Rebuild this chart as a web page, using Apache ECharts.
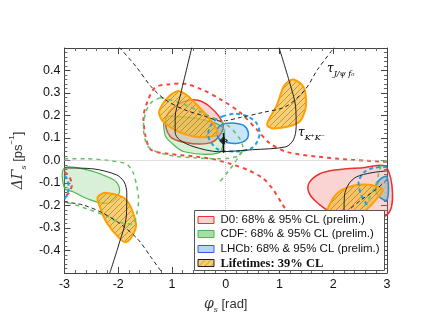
<!DOCTYPE html>
<html>
<head>
<meta charset="utf-8">
<script src="https://cdn.jsdelivr.net/npm/echarts@6/dist/echarts.min.js"></script>
<style>
  html, body { margin: 0; padding: 0; background: #fff; }
  #chart { width: 430px; height: 323px; }
</style>
</head>
<body>
<div id="chart"></div>
<script>
// axis ticks
const xTicks = [-3, -2, -1, 0, 1, 2, 3]
const xTickLabels = ['-3', '-2', '1', '0', '1', '2', '3']
const yTicks = [-0.4, -0.3, -0.2, -0.1, 0, 0.1, 0.2, 0.3, 0.4]
const yTickLabels = ['-0.4', '-0.3', '-0.2', '-0.1', '0.0', '0.1', '0.2', '0.3', '0.4']

// [phi_s, dGamma_s] contours
const d0Central68 = [[-1.12, 0.18], [-0.95, 0.24], [-0.59, 0.27], [-0.3, 0.24], [-0.05, 0.16], [-0.15, 0.1], [-0.36, 0.075], [-0.75, 0.08], [-1.03, 0.106]]
const d0Right68 = [[3.0, -0.033], [2.52, -0.033], [2.03, -0.042], [1.75, -0.059], [1.55, -0.1], [1.55, -0.144], [1.71, -0.189], [1.98, -0.229], [3.0, -0.242]]
const cdfCentral68 = [[-1.13, 0.19], [-0.9, 0.195], [-0.41, 0.18], [-0.05, 0.146], [-0.04, 0.083], [-0.13, 0.034], [-0.77, 0.039], [-1.03, 0.083], [-1.13, 0.115]]
const cdfLeft68 = [[-3.0, -0.033], [-2.57, -0.042], [-2.16, -0.077], [-2.02, -0.1], [-1.98, -0.144], [-2.16, -0.189], [-2.52, -0.175], [-2.83, -0.14], [-3.0, -0.122]]
const lhcbCentral68 = [[-0.17, 0.124], [-0.13, 0.15], [0.0, 0.164], [0.18, 0.166], [0.34, 0.155], [0.42, 0.124], [0.38, 0.092], [0.23, 0.077], [0.04, 0.079], [-0.11, 0.092]]
const lhcbRight68 = [[3.0, -0.073], [2.86, -0.086], [2.79, -0.122], [2.84, -0.158], [3.0, -0.175]]
const lifeTop = [[1.26, 0.36], [1.44, 0.33], [1.49, 0.284], [1.48, 0.226], [1.35, 0.168], [0.9, 0.142], [0.77, 0.16], [0.94, 0.24], [1.08, 0.33], [1.17, 0.352]]
const lifeCentral = [[-0.9, 0.308], [-1.23, 0.226], [-1.14, 0.167], [-0.6, 0.107], [-0.15, 0.122], [-0.6, 0.263]]
const lifeLeft = [[-2.38, -0.162], [-2.21, -0.144], [-1.85, -0.175], [-1.67, -0.278], [-1.71, -0.322], [-1.85, -0.363], [-1.98, -0.345], [-2.21, -0.278], [-2.34, -0.207]]
const lifeRight = [[1.89, -0.242], [1.98, -0.175], [2.16, -0.131], [2.48, -0.108], [2.79, -0.113], [2.92, -0.131], [2.79, -0.175], [2.61, -0.22], [2.25, -0.287]]

const d0Dash95 = [[3.0, -0.006], [2.34, 0.003], [1.71, 0.017], [1.12, 0.039], [0.81, 0.079], [0.58, 0.137], [0.27, 0.213], [-0.09, 0.271], [-0.45, 0.316], [-0.81, 0.342], [-1.08, 0.338], [-1.31, 0.325], [-1.44, 0.271], [-1.53, 0.191], [-1.49, 0.106], [-1.39, 0.048], [-1.08, 0.03], [-0.54, 0.017], [-0.18, 0.003], [0.09, -0.015], [0.41, -0.042], [0.68, -0.077], [0.86, -0.122], [1.04, -0.189], [1.26, -0.274], [1.44, -0.354]]
const d0DashLeft95 = [[-3.0, -0.05], [-2.92, -0.068], [-2.86, -0.108], [-2.92, -0.144], [-3.0, -0.162]]
const cdfDash95 = [[-1.21, 0.28], [-0.81, 0.253], [-0.36, 0.204], [0.04, 0.155], [0.25, 0.101], [0.32, 0.057], [0.25, 0.021], [-0.13, 0.008], [-0.59, 0.012], [-1.08, 0.025], [-1.44, 0.061], [-1.53, 0.15], [-1.49, 0.213], [-1.39, 0.257], [-1.21, 0.28]]
const cdfDashBranch95 = [[0.29, 0.039], [0.18, -0.006], [0.04, -0.05], [-0.11, -0.095]]
const cdfDashLeft95 = [[-3.0, 0.008], [-2.61, 0.008], [-2.16, -0.001], [-1.85, -0.015], [-1.73, -0.05], [-1.66, -0.108], [-1.62, -0.175], [-1.66, -0.242], [-1.73, -0.283], [-1.98, -0.274], [-2.21, -0.247], [-2.52, -0.22], [-2.79, -0.198], [-3.0, -0.184]]
const cdfDashRight95 = [[3.0, 0.0], [2.9, -0.019], [2.84, -0.064], [2.79, -0.108], [2.7, -0.153], [2.57, -0.207]]
const lhcbDash95 = [[-0.06, 0.196], [0.18, 0.208], [0.41, 0.196], [0.57, 0.167], [0.63, 0.124], [0.59, 0.085], [0.48, 0.055], [0.18, 0.04], [-0.13, 0.048], [-0.27, 0.079], [-0.33, 0.115], [-0.27, 0.159], [-0.18, 0.182], [-0.06, 0.196]]
const lhcbDashLeft95 = [[-3.0, -0.068], [-2.95, -0.082], [-2.92, -0.117], [-2.95, -0.153], [-3.0, -0.171]]
const lhcbDashRight95 = [[3.0, -0.028], [2.74, -0.033], [2.56, -0.055], [2.47, -0.1], [2.52, -0.153], [2.63, -0.198]]

const tauKK = [[-0.63, 0.503], [-0.85, 0.284], [-0.94, 0.195], [-0.94, 0.124], [-0.86, 0.092], [-0.59, 0.061], [-0.13, 0.039], [0.5, 0.048], [1.12, 0.061], [1.26, 0.092], [1.31, 0.15], [1.3, 0.24], [1.21, 0.329], [0.99, 0.503]]
const tauKKLeft = [[-3.0, -0.033], [-2.47, -0.037], [-2.03, -0.064], [-1.89, -0.095], [-1.84, -0.144], [-1.85, -0.251], [-1.98, -0.367], [-2.16, -0.503]]
const tauKKRight = [[2.2, -0.243], [2.21, -0.154], [2.29, -0.104], [2.43, -0.073], [2.7, -0.055], [3.0, -0.046]]
const tauJpsi = [[-1.98, 0.503], [-1.67, 0.418], [-1.39, 0.329], [-1.13, 0.271], [-0.77, 0.226], [-0.36, 0.195], [-0.09, 0.175], [0.27, 0.191], [0.68, 0.213], [1.12, 0.24], [1.48, 0.316], [1.71, 0.405], [2.02, 0.503]]
const tauJpsiLeft = [[-3.0, -0.184], [-2.65, -0.198], [-2.29, -0.233], [-1.93, -0.287], [-1.62, -0.354], [-1.39, -0.43], [-1.17, -0.503]]
const tauJpsiRight = [[3.0, -0.085], [2.79, -0.13], [2.52, -0.175], [2.25, -0.228]]

const smPoint = [[-0.04, 0.088]]
const smError = [[-0.04, 0.122], [-0.04, 0.035]]

const legendNames = ['D0: 68% & 95% CL (prelim.)', 'CDF: 68% & 95% CL (prelim.)', 'LHCb: 68% & 95% CL (prelim.)', 'Lifetimes: 39% CL']

const RED = '#e8332f', RED_FILL = 'rgba(240,110,110,0.3)', RED_DASH = '#f04a3c'
const GREEN = '#4cb84c', GREEN_FILL = 'rgba(100,190,100,0.25)', GREEN_DASH = '#62c262'
const BLUE = '#1f8fd8', BLUE_FILL = 'rgba(80,170,230,0.3)', BLUE_DASH = '#1e9fe8'
const ORANGE = '#ffa000'

const hatchCanvas = document.createElement('canvas')
hatchCanvas.width = 6
hatchCanvas.height = 6
const hctx = hatchCanvas.getContext('2d')
hctx.fillStyle = 'rgba(248,188,50,0.7)'
hctx.fillRect(0, 0, 6, 6)
hctx.strokeStyle = 'rgba(90,80,60,0.75)'
hctx.lineWidth = 0.6
hctx.beginPath()
hctx.moveTo(0, 6); hctx.lineTo(6, 0)
hctx.moveTo(-1, 1); hctx.lineTo(1, -1)
hctx.moveTo(5, 7); hctx.lineTo(7, 5)
hctx.stroke()
const HATCH = { image: hatchCanvas, repeat: 'repeat' }

const area = (pts, fill, stroke, lw) => ({
  type: 'custom',
  silent: true,
  data: [pts[0]],
  renderItem: (params, api) => ({
    type: 'polygon',
    shape: { points: pts.map((p) => api.coord(p)), smooth: 0.35 },
    style: { fill: fill, stroke: stroke, lineWidth: lw },
  }),
})

const curve = (pts, color, width, dash, smooth) => ({
  type: 'line',
  silent: true,
  data: pts,
  smooth: smooth === undefined ? 0.3 : smooth,
  symbol: 'none',
  clip: true,
  lineStyle: { color: color, width: width, type: dash ? dash : 'solid' },
})

const chart = echarts.init(document.getElementById('chart'))

const axisCommon = {
  type: 'value',
  axisLine: { show: true, onZero: false, lineStyle: { color: '#444', width: 1 } },
  axisTick: { show: true, inside: true, length: 6, lineStyle: { color: '#444' } },
  minorTick: { show: true, splitNumber: 5, length: 3, lineStyle: { color: '#666' } },
  splitLine: { show: false },
}

const tauRich = {
  t: { fontSize: 12, fontStyle: 'italic', fontFamily: 'DejaVu Serif', color: '#444' },
  s: { fontSize: 8, fontStyle: 'italic', fontFamily: 'DejaVu Serif', color: '#444', verticalAlign: 'bottom', lineHeight: 18 },
}

const legendZ = 100
const legendChildren = [
  { type: 'rect', z: legendZ, shape: { x: 0, y: 0, width: 190, height: 60 }, style: { fill: '#fff', stroke: '#555', lineWidth: 1 } },
  { type: 'rect', z: legendZ + 1, shape: { x: 3.5, y: 6, width: 16, height: 7 }, style: { fill: '#fad2d2', stroke: RED, lineWidth: 1 } },
  { type: 'rect', z: legendZ + 1, shape: { x: 3.5, y: 20, width: 16, height: 7 }, style: { fill: '#a8dca8', stroke: GREEN, lineWidth: 1 } },
  { type: 'rect', z: legendZ + 1, shape: { x: 3.5, y: 35, width: 16, height: 7 }, style: { fill: '#b8d4ee', stroke: '#3060e0', lineWidth: 1 } },
  { type: 'rect', z: legendZ + 1, shape: { x: 3.5, y: 49, width: 16, height: 7 }, style: { fill: HATCH, stroke: '#222', lineWidth: 1 } },
]
legendNames.forEach((name, i) => {
  const last = i === legendNames.length - 1
  legendChildren.push({
    type: 'text', z: legendZ + 1,
    style: {
      x: 26, y: [9.5, 23.5, 38.5, 53][i], text: name,
      fontSize: last ? 12.5 : 11.5,
      fontWeight: last ? 'bold' : 'normal',
      fontFamily: last ? 'Liberation Serif' : 'Liberation Sans',
      fill: '#111', verticalAlign: 'middle',
    },
  })
})

const option = {
  backgroundColor: '#fff',
  animation: false,
  grid: { left: 53, right: 43, top: 48, bottom: 50 },
  xAxis: [
    {
      ...axisCommon,
      min: -3, max: 3, interval: 1,
      position: 'bottom',
      axisLabel: {
        fontSize: 12.5, color: '#111', margin: 5, fontFamily: 'Liberation Sans',
        formatter: (v) => xTickLabels[xTicks.indexOf(Math.round(v))],
      },
      name: '{g|φ}{s|s} [rad]',
      nameLocation: 'middle',
      nameGap: 21,
      nameTextStyle: {
        fontSize: 13, color: '#333', fontFamily: 'Liberation Sans',
        rich: {
          g: { fontSize: 14, fontStyle: 'italic', fontFamily: 'DejaVu Serif', color: '#333' },
          s: { fontSize: 8, fontStyle: 'italic', fontFamily: 'DejaVu Serif', color: '#333', verticalAlign: 'bottom', lineHeight: 20 },
        },
      },
    },
    {
      ...axisCommon,
      min: -3, max: 3, interval: 1,
      position: 'top',
      axisLabel: { show: false },
    },
  ],
  yAxis: [
    {
      ...axisCommon,
      min: -0.5, max: 0.5, interval: 0.1,
      position: 'left',
      axisLabel: {
        fontSize: 12.5, color: '#111', margin: 4, fontFamily: 'Liberation Sans',
        showMinLabel: false, showMaxLabel: false,
        formatter: (v) => {
          const i = yTicks.findIndex((t) => Math.abs(t - v) < 1e-6)
          return i < 0 ? '' : yTickLabels[i]
        },
      },
      name: '{g|ΔΓ}{s|s} [ps{p|−1}]',
      nameLocation: 'middle',
      nameRotate: 90,
      nameGap: 34,
      nameTextStyle: {
        fontSize: 13, color: '#333', fontFamily: 'Liberation Sans',
        rich: {
          g: { fontSize: 14, fontStyle: 'italic', fontFamily: 'DejaVu Serif', color: '#333' },
          s: { fontSize: 8, fontStyle: 'italic', fontFamily: 'DejaVu Serif', color: '#333', verticalAlign: 'bottom', lineHeight: 20 },
          p: { fontSize: 8, color: '#333', verticalAlign: 'top', lineHeight: 20 },
        },
      },
    },
    {
      ...axisCommon,
      min: -0.5, max: 0.5, interval: 0.1,
      position: 'right',
      axisLabel: { show: false },
    },
  ],
  series: [
    {
      type: 'line', data: [], silent: true,
      markLine: {
        silent: true, symbol: 'none', label: { show: false },
        lineStyle: { color: '#c4c4c4', type: 'dotted', width: 1 },
        data: [{ xAxis: 0 }, { yAxis: 0 }],
      },
    },
    area(d0Central68, RED_FILL, RED, 1.5),
    area(d0Right68, RED_FILL, RED, 1.5),
    area(cdfCentral68, GREEN_FILL, GREEN, 1.2),
    area(cdfLeft68, GREEN_FILL, GREEN, 1.2),
    area(lhcbCentral68, BLUE_FILL, BLUE, 1.5),
    area(lhcbRight68, 'rgba(190,190,190,0.9)', BLUE, 1.5),
    area(lifeCentral, HATCH, ORANGE, 2),
    area(lifeTop, HATCH, ORANGE, 2),
    area(lifeLeft, HATCH, ORANGE, 2),
    area(lifeRight, HATCH, ORANGE, 2),
    curve(d0Dash95, RED_DASH, 2, [4, 4]),
    curve(d0DashLeft95, RED_DASH, 2, [4, 4]),
    curve(cdfDash95, GREEN_DASH, 1.5, [4, 4]),
    curve(cdfDashBranch95, GREEN_DASH, 1.5, [4, 4]),
    curve(cdfDashLeft95, GREEN_DASH, 1.5, [4, 4]),
    curve(cdfDashRight95, GREEN_DASH, 1.5, [4, 4]),
    curve(lhcbDash95, BLUE_DASH, 2, [4, 3]),
    curve(lhcbDashLeft95, BLUE_DASH, 2, [4, 3]),
    curve(lhcbDashRight95, BLUE_DASH, 2, [4, 3]),
    curve(tauKK, '#222', 1),
    curve(tauKKLeft, '#222', 1),
    curve(tauKKRight, '#222', 1),
    curve(tauJpsi, '#222', 1, [4, 3]),
    curve(tauJpsiLeft, '#222', 1, [4, 3]),
    curve(tauJpsiRight, '#222', 1, [4, 3]),
    curve(smError, '#111', 1.5, null, 0),
    {
      type: 'scatter', silent: true, data: smPoint,
      symbol: 'diamond', symbolSize: 9,
      itemStyle: { color: '#111' },
    },
  ],
  graphic: [
    {
      type: 'text', left: 327, top: 63, silent: true, z: 50,
      style: { text: '{t|τ}{s|J/ψ f₀}', rich: tauRich },
    },
    {
      type: 'text', left: 298, top: 127, silent: true, z: 50,
      style: { text: '{t|τ}{s|K⁺K⁻}', rich: tauRich },
    },
    {
      type: 'group', left: 194, top: 210, z: legendZ,
      children: legendChildren,
    },
  ],
}

chart.setOption(option)
</script>
</body>
</html>
